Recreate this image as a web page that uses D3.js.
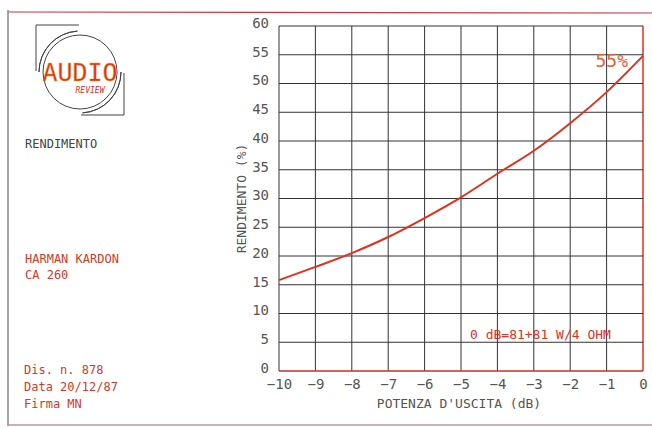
<!DOCTYPE html>
<html>
<head>
<meta charset="utf-8">
<script src="https://cdn.jsdelivr.net/npm/d3@7"></script>
<style>
  body { margin: 0; background: #fff; }
  text { font-family: "DejaVu Sans Mono", monospace; }
</style>
</head>
<body>
<svg id="chart"></svg>
<script>
// efficiency vs output power
const powerDb = [-10, -9, -8, -7, -6, -5, -4, -3, -2, -1, 0];
const efficiency = [15.8, 18.1, 20.5, 23.3, 26.6, 30.2, 34.3, 38.3, 43.1, 48.5, 54.8];
const xTicks = [-10, -9, -8, -7, -6, -5, -4, -3, -2, -1, 0];
const yTicks = [0, 5, 10, 15, 20, 25, 30, 35, 40, 45, 50, 55, 60];
const infoLines = ["Dis. n. 878", "Data 20/12/87", "Firma MN"];
const productLines = ["HARMAN KARDON", "CA 260"];

const svgWidth = 652;
const svgHeight = 428;
const margin = { top: 26, right: 9, bottom: 57, left: 279 };
const red = "#e0301e";
const grid = "#333";

const svg = d3.select("#chart")
    .attr("width", svgWidth)
    .attr("height", svgHeight);

const xScale = d3.scaleLinear()
    .domain([-10, 0])
    .range([margin.left, svgWidth - margin.right]);

const yScale = d3.scaleLinear()
    .domain([0, 60])
    .range([svgHeight - margin.bottom, margin.top]);

// page frame
svg.append("line").attr("x1", 8).attr("x2", 652).attr("y1", 12).attr("y2", 13)
    .attr("stroke", "#c43a3a").attr("stroke-width", 1.2);
svg.append("line").attr("x1", 8).attr("x2", 8).attr("y1", 10).attr("y2", 426)
    .attr("stroke", "#888").attr("stroke-width", 1.5);
svg.append("line").attr("x1", 8).attr("x2", 652).attr("y1", 425).attr("y2", 425)
    .attr("stroke", "#b99").attr("stroke-width", 1.5);

// grid
svg.append("g")
    .selectAll("line")
    .data(xTicks)
    .join("line")
    .attr("x1", d => xScale(d)).attr("x2", d => xScale(d))
    .attr("y1", yScale(0)).attr("y2", yScale(60))
    .attr("stroke", d => d === 0 ? red : grid)
    .attr("stroke-width", d => d === 0 ? 1.5 : 1);

svg.append("g")
    .selectAll("line")
    .data(yTicks)
    .join("line")
    .attr("x1", xScale(-10)).attr("x2", xScale(0))
    .attr("y1", d => yScale(d)).attr("y2", d => yScale(d))
    .attr("stroke", d => d === 0 ? "#c0302a" : grid)
    .attr("stroke-width", d => d === 0 ? 1.5 : 1);

// axes labels
const xAxis = svg.append("g")
    .attr("transform", `translate(0,${yScale(0) + 2})`)
    .call(d3.axisBottom(xScale).tickValues(xTicks).tickSize(0).tickPadding(6)
        .tickFormat(d => d < 0 ? "\u2212" + Math.abs(d) : d));
xAxis.select(".domain").remove();
xAxis.selectAll("text")
    .attr("font-size", 14).attr("fill", "#555")
    .attr("font-family", "DejaVu Sans Mono, monospace");

const yAxis = svg.append("g")
    .attr("transform", `translate(${margin.left - 10},0)`)
    .call(d3.axisLeft(yScale).tickValues(yTicks).tickSize(0).tickPadding(0));
yAxis.select(".domain").remove();
yAxis.selectAll("text")
    .attr("font-size", 14).attr("fill", "#555")
    .attr("font-family", "DejaVu Sans Mono, monospace")
    .attr("dy", "0.1em");

svg.append("text")
    .attr("transform", `translate(246,${yScale(30)}) rotate(-90)`)
    .attr("text-anchor", "middle")
    .attr("font-size", 13).attr("fill", "#555")
    .text("RENDIMENTO  (%)");

svg.append("text")
    .attr("x", (xScale(-10) + xScale(0)) / 2 - 2).attr("y", 408)
    .attr("text-anchor", "middle")
    .attr("font-size", 13).attr("fill", "#555")
    .text("POTENZA D'USCITA (dB)");

// curve
const line = d3.line()
    .x((d, i) => xScale(powerDb[i]))
    .y(d => yScale(d))
    .curve(d3.curveMonotoneX);

svg.append("path")
    .datum(efficiency)
    .attr("fill", "none")
    .attr("stroke", red)
    .attr("stroke-width", 2)
    .attr("d", line);

svg.append("text")
    .attr("x", xScale(0) - 15).attr("y", yScale(55) + 12)
    .attr("text-anchor", "end")
    .attr("font-size", 18).attr("fill", "#e8603a")
    .text("55%");

svg.append("text")
    .attr("x", 470).attr("y", yScale(5.6))
    .attr("text-anchor", "start")
    .attr("font-size", 13).attr("fill", red)
    .text("0 dB=81+81 W/4 OHM");

// left panel texts
svg.append("text")
    .attr("x", 25).attr("y", 148)
    .attr("font-size", 12).attr("fill", "#444")
    .text("RENDIMENTO");

svg.append("g")
    .selectAll("text")
    .data(productLines)
    .join("text")
    .attr("x", 25).attr("y", (d, i) => 263 + i * 16)
    .attr("font-size", 12).attr("fill", "#d03a2a")
    .text(d => d);

svg.append("g")
    .selectAll("text")
    .data(infoLines)
    .join("text")
    .attr("x", 24).attr("y", (d, i) => 374 + i * 17)
    .attr("font-size", 12).attr("fill", "#d03a2a")
    .text(d => d);

// logo
const logo = svg.append("g").attr("transform", "translate(80,72)");
logo.append("circle").attr("r", 37)
    .attr("fill", "none").attr("stroke", "#444").attr("stroke-width", 1);
logo.append("path")
    .attr("d", d3.arc()({ innerRadius: 41, outerRadius: 41, startAngle: -Math.PI * 0.5, endAngle: -Math.PI * 0.02 }))
    .attr("fill", "none").attr("stroke", "#444").attr("stroke-width", 1);
logo.append("path")
    .attr("d", d3.arc()({ innerRadius: 41, outerRadius: 41, startAngle: Math.PI * 0.5, endAngle: Math.PI * 0.98 }))
    .attr("fill", "none").attr("stroke", "#444").attr("stroke-width", 1);
logo.append("path")
    .attr("d", "M-44,-1 L-44,-47 L-1,-47")
    .attr("fill", "none").attr("stroke", "#444").attr("stroke-width", 1);
logo.append("path")
    .attr("d", "M44,1 L44,43 L1,43")
    .attr("fill", "none").attr("stroke", "#444").attr("stroke-width", 1);
logo.append("text")
    .attr("x", 0).attr("y", 9)
    .attr("text-anchor", "middle")
    .attr("font-size", 25)
    .attr("fill", "#e03020").attr("stroke", "#f0b020").attr("stroke-width", 0.4)
    .text("AUDIO");
logo.append("text")
    .attr("x", 10).attr("y", 21)
    .attr("text-anchor", "middle")
    .attr("font-size", 8).attr("font-style", "italic")
    .attr("fill", "#e03020")
    .text("REVIEW");
</script>
</body>
</html>
